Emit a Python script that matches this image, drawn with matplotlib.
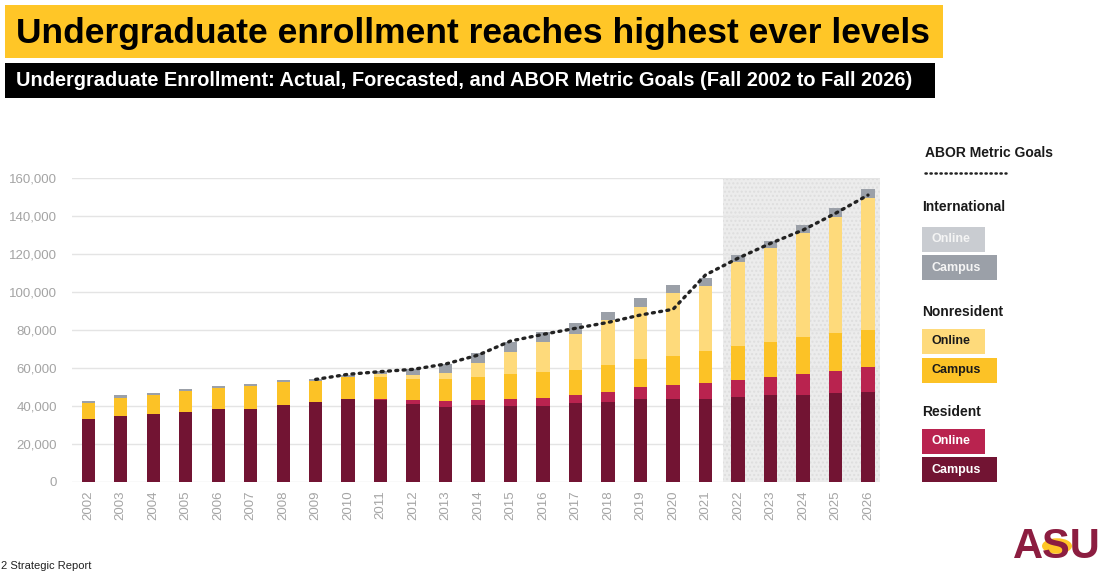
import numpy as np
import matplotlib
matplotlib.use("Agg")
import matplotlib.pyplot as plt
from matplotlib.patches import Rectangle, Circle
from matplotlib.lines import Line2D

plt.rcParams['font.family'] = ['Liberation Sans', 'DejaVu Sans']

# ---- data -------------------------------------------------------------
years = list(range(2002, 2027))

resident_campus = [33000, 34700, 35800, 37000, 38600, 38200, 40500, 41900, 43500,
                   43100, 40900, 39600, 40400, 39800, 40200, 41700, 42300, 43500,
                   43900, 43900, 44600, 45600, 45800, 46700, 47500]
resident_online = [0, 0, 0, 0, 0, 0, 0, 0, 0,
                   400, 2300, 3000, 2800, 3700, 3800, 4100, 5200, 6300,
                   7300, 8000, 9100, 9500, 10900, 11900, 12900]
nonres_campus = [8700, 9500, 9800, 10900, 11000, 12100, 12000, 11200, 11600,
                 11600, 11000, 11600, 12100, 13300, 13900, 13300, 13900, 14900,
                 15100, 17000, 18000, 18800, 19400, 19600, 19600]
nonres_online = [0, 0, 0, 0, 0, 0, 0, 0, 0,
                 1600, 2100, 3000, 7500, 11400, 15600, 18800, 23900, 27600,
                 33300, 34300, 43900, 49100, 54800, 61400, 69300]
intl_campus = [1100, 1400, 1200, 1200, 1100, 1100, 1000, 900, 1000,
               1700, 3000, 4900, 4900, 5700, 5600, 5600, 4300, 4400,
               3900, 4000, 3900, 3800, 4400, 4400, 4700]
intl_online = [0] * 25

goal_years = list(range(2009, 2027))
abor_goals = [54000, 56700, 58100, 59300, 62100, 66800, 74200, 77700, 80900,
              84000, 87900, 90900, 109000, 117800, 125600, 132600, 141400, 151000]

first_forecast_year = 2022

# ---- colours ----------------------------------------------------------
C_RES_CAMPUS = "#721433"
C_RES_ONLINE = "#B9234F"
C_NR_CAMPUS = "#FCC226"
C_NR_ONLINE = "#FEDA7B"
C_INT_CAMPUS = "#9BA0A8"
C_INT_ONLINE = "#C9CCD1"
GOLD = "#FFC627"
MAROON = "#8C1D40"

W, H = 1104, 572
fig = plt.figure(figsize=(W / 100, H / 100), dpi=100)


def fx(px):
    return px / W


def fy(py):
    return 1 - py / H


# ---- header -----------------------------------------------------------
fig.patches.append(Rectangle((fx(5), fy(58)), fx(938), 53 / H,
                             transform=fig.transFigure, facecolor=GOLD,
                             edgecolor="none"))
fig.text(fx(16), fy(33), "Undergraduate enrollment reaches highest ever levels",
         fontsize=25.5, fontweight="bold", color="black", va="center", ha="left")
fig.patches.append(Rectangle((fx(5), fy(98)), fx(930), 35 / H,
                             transform=fig.transFigure, facecolor="black",
                             edgecolor="none"))
fig.text(fx(16), fy(80.5),
         "Undergraduate Enrollment: Actual, Forecasted, and ABOR Metric Goals (Fall 2002 to Fall 2026)",
         fontsize=14.4, fontweight="bold", color="white", va="center", ha="left")

# ---- chart ------------------------------------------------------------
ax = fig.add_axes([fx(72), fy(482), fx(880 - 72), (482 - 178) / H])
x = np.arange(len(years))
bw = 0.41

stack = [
    (resident_campus, C_RES_CAMPUS),
    (resident_online, C_RES_ONLINE),
    (nonres_campus, C_NR_CAMPUS),
    (nonres_online, C_NR_ONLINE),
    (intl_online, C_INT_ONLINE),
    (intl_campus, C_INT_CAMPUS),
]
bottom = np.zeros(len(years))
for vals, col in stack:
    v = np.array(vals, dtype=float)
    ax.bar(x, v, bw, bottom=bottom, color=col, edgecolor="none", zorder=3)
    bottom += v

gx = np.array([years.index(y) for y in goal_years])
ax.plot(gx, abor_goals, color="#222222", linestyle=(0, (0.6, 1.6)),
        linewidth=2.4, dash_capstyle="round", zorder=5)

fi = years.index(first_forecast_year)
ax.axvspan(fi - 0.47, len(years) - 0.63, ymin=0, ymax=1,
           facecolor="#ececec", edgecolor="#dedede", hatch="....",
           linewidth=0, zorder=0)

ax.set_xlim(-0.5, len(years) - 0.63)
ax.set_ylim(0, 160000)
ax.set_yticks(np.arange(0, 160001, 20000))
ax.set_yticklabels([f"{v:,}" for v in range(0, 160001, 20000)])
ax.set_xticks(x)
ax.set_xticklabels([str(y) for y in years], rotation=90)
ax.tick_params(axis="y", length=0, pad=11, labelsize=9.5, labelcolor="#a4a4a4")
ax.tick_params(axis="x", length=0, pad=6, labelsize=9.5, labelcolor="#a4a4a4")
ax.grid(axis="y", color="#e4e4e4", linewidth=1.0, zorder=1)
ax.set_axisbelow(True)
for s in ax.spines.values():
    s.set_visible(False)

# ---- legend panel -----------------------------------------------------
lx = 922
fig.text(fx(925), fy(153), "ABOR Metric Goals", fontsize=10,
         fontweight="bold", color="#1a1a1a", va="center", ha="left")
fig.add_artist(Line2D([fx(925), fx(1006)], [fy(173), fy(173)],
                      transform=fig.transFigure, color="#222222",
                      linestyle=(0, (0.5, 1.5)), linewidth=1.8,
                      dash_capstyle="round"))

groups = [
    ("International", 207, [("Online", C_INT_ONLINE, "#f4f4f4", 227, 63),
                            ("Campus", C_INT_CAMPUS, "#f4f4f4", 255, 75)]),
    ("Nonresident", 312.5, [("Online", C_NR_ONLINE, "#1a1a1a", 329, 63),
                            ("Campus", C_NR_CAMPUS, "#1a1a1a", 358, 75)]),
    ("Resident", 412, [("Online", C_RES_ONLINE, "white", 429, 63),
                       ("Campus", C_RES_CAMPUS, "white", 457, 75)]),
]
for title, ty, boxes in groups:
    fig.text(fx(lx), fy(ty), title, fontsize=10, fontweight="bold",
             color="#1a1a1a", va="center", ha="left")
    for label, fc, tc, top, w in boxes:
        fig.patches.append(Rectangle((fx(lx), fy(top + 24.5)), fx(w), 24.5 / H,
                                     transform=fig.transFigure, facecolor=fc,
                                     edgecolor="none"))
        fig.text(fx(lx + 10), fy(top + 12.5), label, fontsize=9,
                 fontweight="bold", color=tc, va="center", ha="left")

# ---- footer -----------------------------------------------------------
fig.text(fx(1), fy(566), "2 Strategic Report", fontsize=8,
         color="#222222", va="center", ha="left")

# university wordmark with a sun behind the S
fig.patches.append(Circle((fx(1057), fy(546)), 15 / W,
                          transform=fig.transFigure,
                          facecolor=GOLD, edgecolor="none"))
fig.text(fx(1057), fy(547), "ASU", fontsize=30, fontweight="heavy",
         color=MAROON, va="center", ha="center")

fig.savefig("out.png", dpi=100, facecolor="white")
